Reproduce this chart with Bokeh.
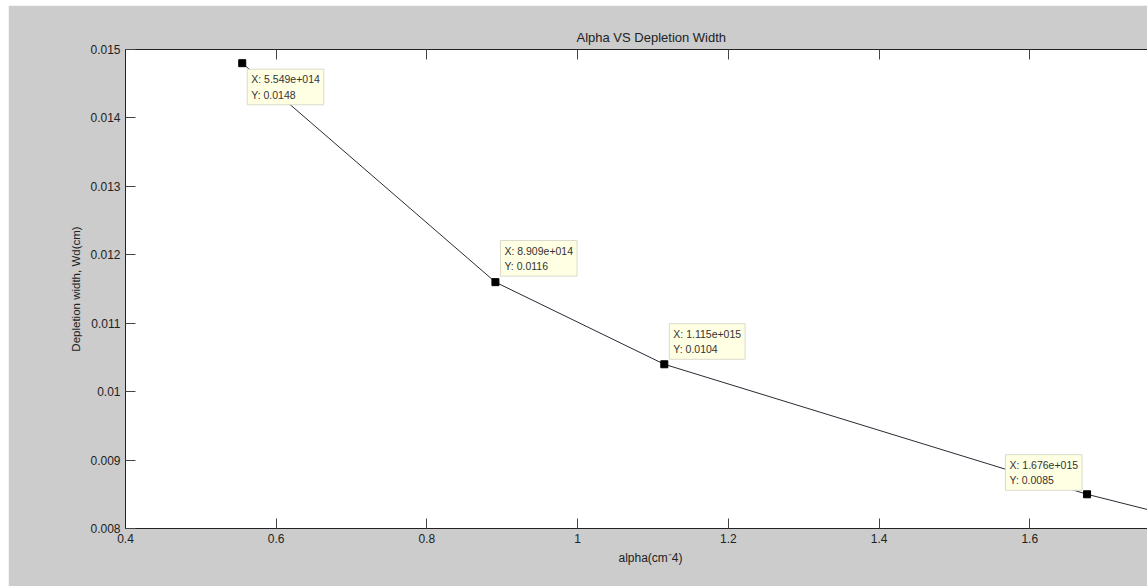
from bokeh.plotting import figure
from bokeh.models import Range1d, LinearAxis, FixedTicker, Label, ColumnDataSource, Title
from bokeh.embed import file_html
from bokeh.resources import INLINE

# ---- data ----
alpha = [0.5549, 0.8909, 1.115, 1.676, 2.0]          # alpha (x 1e15)
width = [0.0148, 0.0116, 0.0104, 0.0085, 0.0076]     # depletion width (cm)
tip_alpha = [0.5549, 0.8909, 1.115, 1.676]
tip_width = [0.0148, 0.0116, 0.0104, 0.0085]
tip_x_text = ["5.549e+014", "8.909e+014", "1.115e+015", "1.676e+015"]
tip_y_text = ["0.0148", "0.0116", "0.0104", "0.0085"]
x_ticks = [0.4, 0.6, 0.8, 1.0, 1.2, 1.4, 1.6]
x_tick_labels = ["0.4", "0.6", "0.8", "1", "1.2", "1.4", "1.6"]
y_ticks = [0.008, 0.009, 0.010, 0.011, 0.012, 0.013, 0.014, 0.015]
y_tick_labels = ["0.008", "0.009", "0.01", "0.011", "0.012", "0.013", "0.014", "0.015"]

FONT = "Liberation Sans"
GRAY = "#CCCCCC"

p = figure(width=1139, height=581, output_backend="svg", toolbar_location=None,
           x_range=Range1d(0.4, 1.7562), y_range=Range1d(0.008, 0.015),
           min_border_left=117, min_border_right=0, min_border_top=44, min_border_bottom=58,
           x_axis_location="below", y_axis_location="left")
p.margin = (5, 0, 0, 8)
p.border_fill_color = GRAY
p.background_fill_color = "white"
p.outline_line_color = None
p.grid.visible = False

def style_axis(ax, ticks, labels):
    ax.ticker = FixedTicker(ticks=ticks)
    ax.major_label_overrides = {t: l for t, l in zip(ticks, labels)}
    ax.minor_tick_line_color = None
    ax.major_tick_in = 10
    ax.major_tick_out = 0
    ax.major_tick_line_color = "#444444"
    ax.axis_line_color = "#222222"
    ax.major_label_text_font = FONT
    ax.major_label_text_font_size = "12px"
    ax.major_label_text_color = "#222222"
    ax.major_label_standoff = 5

style_axis(p.xaxis[0], x_ticks, x_tick_labels)
style_axis(p.yaxis[0], y_ticks, y_tick_labels)
p.xaxis[0].major_label_standoff = 5

top = LinearAxis()
style_axis(top, x_ticks, x_tick_labels)
top.major_label_text_alpha = 0
top.major_label_text_font_size = "1px"
top.major_label_standoff = 0
p.add_layout(top, "above")

src = ColumnDataSource(dict(x=alpha, y=width))
p.line("x", "y", source=src, line_color="#2a2a35", line_width=1)
p.scatter(tip_alpha, tip_width, marker="square", size=7, color="black")

offsets = [("top_left", 5, -6), ("bottom_left", 5, 6), ("bottom_left", 5, 5), ("bottom_right", -5, 4)]
for xa, ya, tx, ty, (anc, xo, yo) in zip(tip_alpha, tip_width, tip_x_text, tip_y_text, offsets):
    p.add_layout(Label(x=xa, y=ya, x_offset=xo, y_offset=yo, anchor=anc,
                       text=f"X: {tx}\nY: {ty}", text_font=FONT, text_font_size="10.5px",
                       text_color="#333333", text_line_height=1.3,
                       background_fill_color="#FFFFE4", border_line_color="#DADACB",
                       padding=4))

# title, axis labels
p.title.text = "Alpha VS Depletion Width"
p.title.align = "left"
p.title.offset = 451
p.title.text_font = FONT
p.title.text_font_size = "13px"
p.title.text_font_style = "normal"
p.title.text_color = "#222222"
p.title.standoff = 9

p.add_layout(Title(text="alpha(cm\u207b4)", align="left", offset=493, text_font=FONT,
                   text_font_size="12px", text_font_style="normal", text_color="#222222",
                   standoff=7), "below")
p.add_layout(Title(text="Depletion width, Wd(cm)", align="center", text_font=FONT,
                   text_font_size="11.5px", text_font_style="normal", text_color="#222222",
                   standoff=11), "left")

open("out.html", "w").write(file_html(p, INLINE))
